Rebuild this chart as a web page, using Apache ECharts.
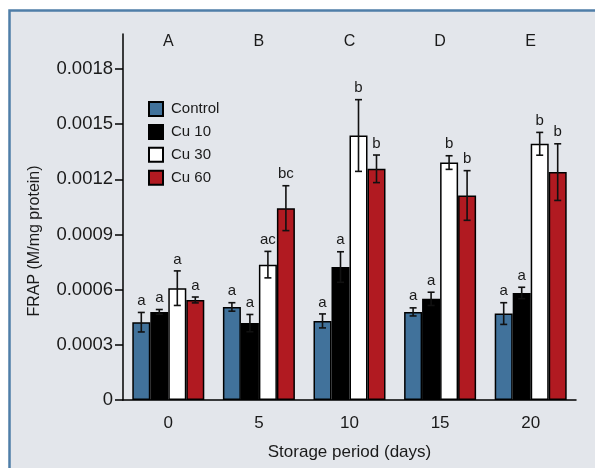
<!DOCTYPE html>
<html>
<head>
<meta charset="utf-8">
<script src="https://cdn.jsdelivr.net/npm/echarts@6/dist/echarts.min.js"></script>
<style>
  html, body { margin: 0; padding: 0; background: #fff; }
  #chart { width: 595px; height: 468px; }
</style>
</head>
<body>
<div id="chart"></div>
<script>
// storage days on the x axis, panel letters shown above each group
const categories = ['0', '5', '10', '15', '20']
const panelLetters = ['A', 'B', 'C', 'D', 'E']
const seriesNames = ['Control', 'Cu 10', 'Cu 30', 'Cu 60']

// FRAP means (M/mg protein)
const control = [0.000423, 0.000506, 0.00043, 0.000479, 0.00047]
const cu10 = [0.000479, 0.000418, 0.000723, 0.00055, 0.000582]
const cu30 = [0.000608, 0.000736, 0.001438, 0.001291, 0.001393]
const cu60 = [0.000544, 0.001043, 0.001257, 0.001112, 0.001239]

// error bar half-lengths
const controlErr = [0.000053, 0.000023, 0.000038, 0.000022, 0.000059]
const cu10Err = [0.000013, 0.000047, 0.000083, 0.000036, 0.000031]
const cu30Err = [0.000094, 0.000072, 0.000195, 0.000037, 0.000062]
const cu60Err = [0.000016, 0.000122, 0.000075, 0.000135, 0.000154]

// significance letters
const controlSig = ['a', 'a', 'a', 'a', 'a']
const cu10Sig = ['a', 'a', 'a', 'a', 'a']
const cu30Sig = ['a', 'ac', 'b', 'b', 'b']
const cu60Sig = ['a', 'bc', 'b', 'b', 'b']

const yTicks = [0, 0.0003, 0.0006, 0.0009, 0.0012, 0.0015, 0.0018]

const values = [control, cu10, cu30, cu60]
const errs = [controlErr, cu10Err, cu30Err, cu60Err]
const sigs = [controlSig, cu10Sig, cu30Sig, cu60Sig]
const colors = ['#41729b', '#000000', '#ffffff', '#b11a21']

const BAR_W = 18
const FONT = 'Liberation Sans'
const TEXT = '#1a1a1a'

let errData = []
let errLetters = []
values.forEach((arr, s) => {
  arr.forEach((v, c) => {
    errData.push([c, s, v, errs[s][c]])
    errLetters.push(sigs[s][c])
  })
})

function renderErr(params, api) {
  const c = api.value(0)
  const s = api.value(1)
  const v = api.value(2)
  const e = api.value(3)
  const x = api.coord([c, 0])[0] + (s - 1.5) * BAR_W
  const yTop = api.coord([c, v + e])[1]
  const yBot = api.coord([c, v - e])[1]
  const ls = { stroke: '#111', lineWidth: 1.6 }
  return {
    type: 'group',
    children: [
      { type: 'line', shape: { x1: x, y1: yTop, x2: x, y2: yBot }, style: ls },
      { type: 'line', shape: { x1: x - 3.5, y1: yTop, x2: x + 3.5, y2: yTop }, style: ls },
      { type: 'line', shape: { x1: x - 3.5, y1: yBot, x2: x + 3.5, y2: yBot }, style: ls },
      {
        type: 'text',
        x: x,
        y: yTop - 4,
        style: {
          text: errLetters[params.dataIndex],
          textAlign: 'center',
          textVerticalAlign: 'bottom',
          fontFamily: FONT,
          fontSize: 15,
          fill: TEXT,
        },
      },
    ],
  }
}

const chart = echarts.init(document.getElementById('chart'))
chart.setOption({
  animation: false,
  backgroundColor: '#fff',
  graphic: [
    {
      type: 'rect',
      z: -10,
      shape: { x: 9.5, y: 10.5, width: 620, height: 500 },
      style: { fill: '#e3e6eb', stroke: '#4f7ea8', lineWidth: 2.5 },
    },
  ],
  grid: { left: 123, right: 19, top: 34, bottom: 68 },
  legend: {
    data: seriesNames,
    orient: 'vertical',
    left: 143,
    top: 96,
    itemWidth: 14,
    itemHeight: 14,
    itemGap: 6.9,
    icon: 'rect',
    textStyle: { fontFamily: FONT, fontSize: 15, color: TEXT, padding: [0, 0, 0, 3] },
  },
  xAxis: [
    {
      type: 'category',
      data: categories,
      name: 'Storage period (days)',
      nameLocation: 'middle',
      nameGap: 44,
      nameTextStyle: { fontFamily: FONT, fontSize: 17, color: TEXT },
      axisLine: { lineStyle: { color: '#000', width: 1.5 } },
      axisTick: { alignWithLabel: true, length: 6, lineStyle: { color: '#000', width: 1.5 } },
      axisLabel: { fontFamily: FONT, fontSize: 17, color: TEXT, margin: 15 },
    },
    {
      type: 'category',
      data: panelLetters,
      position: 'top',
      axisLine: { show: false },
      axisTick: { show: false },
      axisLabel: { fontFamily: FONT, fontSize: 16, color: TEXT, margin: -8, verticalAlign: 'middle' },
    },
  ],
  yAxis: {
    type: 'value',
    min: 0,
    max: 0.00199,
    name: 'FRAP (M/mg protein)',
    nameLocation: 'middle',
    nameGap: 80,
    nameTextStyle: { fontFamily: FONT, fontSize: 16, color: TEXT, padding: [0, 48, 0, 0] },
    splitLine: { show: false },
    axisLine: { show: true, lineStyle: { color: '#000', width: 1.5 } },
    axisTick: { show: true, length: 8, customValues: yTicks, lineStyle: { color: '#000', width: 1.5 } },
    axisLabel: {
      customValues: yTicks,
      fontFamily: FONT,
      fontSize: 18.5,
      color: TEXT,
      margin: 10,
      formatter: v => (v === 0 ? '0' : v.toFixed(4)),
    },
  },
  series: values
    .map((arr, s) => ({
      name: seriesNames[s],
      type: 'bar',
      data: arr,
      barWidth: BAR_W,
      barGap: '0%',
      itemStyle: { color: colors[s], borderColor: '#000', borderWidth: 1.5 },
    }))
    .concat([
      {
        type: 'custom',
        renderItem: renderErr,
        data: errData,
        z: 10,
        silent: true,
      },
    ]),
})
</script>
</body>
</html>
